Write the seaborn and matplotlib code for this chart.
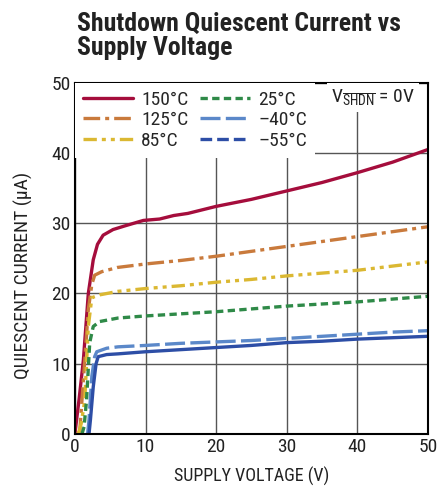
import matplotlib
matplotlib.use("Agg")
import matplotlib.pyplot as plt
from matplotlib.lines import Line2D
import pandas as pd
import seaborn as sns

# supply voltage (V) / quiescent current (uA)
V_150 = [0, 0.6, 1.2, 1.9, 2.6, 3.2, 4.0, 5.4, 7, 9.7, 12, 14, 16, 20, 25, 30, 35, 40, 45, 50]
I_150 = [0, 5, 10.5, 20, 24.8, 27, 28.3, 29.1, 29.6, 30.4, 30.6, 31.1, 31.4, 32.4, 33.4, 34.6, 35.8, 37.2, 38.7, 40.5]

V_125 = [0.4, 0.7, 1.4, 1.9, 2.4, 2.8, 3.8, 6, 10, 15, 20, 25, 30, 35, 40, 45, 50]
I_125 = [0, 0.5, 10.5, 17.7, 21.3, 22.6, 23.1, 23.7, 24.2, 24.7, 25.3, 26.0, 26.7, 27.4, 28.1, 28.8, 29.5]

V_85 = [0.5, 0.9, 1.4, 1.9, 2.4, 3.5, 6.1, 10, 15, 20, 25, 30, 35, 40, 45, 50]
I_85 = [0, 1.5, 4.8, 15.3, 19.4, 19.8, 20.3, 20.7, 21.1, 21.6, 22.0, 22.5, 22.9, 23.3, 23.9, 24.5]

V_25 = [1.0, 1.3, 1.65, 2.1, 2.6, 3.5, 6.1, 10, 15, 20, 25, 30, 35, 40, 45, 50]
I_25 = [0, 1, 4.8, 13, 15.3, 16.0, 16.5, 16.8, 17.1, 17.4, 17.8, 18.2, 18.5, 18.8, 19.2, 19.6]

V_M40 = [1.8, 2.0, 2.4, 2.8, 3.1, 4.5, 6.1, 10, 15, 20, 25, 30, 35, 40, 45, 50]
I_M40 = [0, 2, 8.2, 11, 11.7, 12.2, 12.4, 12.6, 12.9, 13.1, 13.3, 13.6, 13.9, 14.2, 14.5, 14.7]

V_M55 = [2.0, 2.2, 2.6, 3.0, 3.3, 4.5, 6.1, 10, 15, 20, 25, 30, 35, 40, 45, 50]
I_M55 = [0, 2, 6.7, 10, 11.0, 11.3, 11.4, 11.7, 12.0, 12.3, 12.6, 13.0, 13.2, 13.5, 13.7, 13.9]

TEMPS = ["150°C", "125°C", "85°C", "25°C", "–40°C", "–55°C"]
X_TICKS = [0, 10, 20, 30, 40, 50]
Y_TICKS = [0, 10, 20, 30, 40, 50]

colors = {
    "150°C": "#a50d3c",
    "125°C": "#c97a3c",
    "85°C": "#dbb832",
    "25°C": "#2f8a48",
    "–40°C": "#5b88c9",
    "–55°C": "#2d4ea6",
}
dashes = {
    "150°C": "",
    "125°C": (5, 1.5, 1.2, 1.5),
    "85°C": (4, 1.5, 1.2, 1.5, 1.2, 1.5),
    "25°C": (2.2, 1.3),
    "–40°C": (6, 1.6),
    "–55°C": "",
}
# the -55C key in the legend is drawn dashed although its trace is solid
legend_dashes = dict(dashes)
legend_dashes["–55°C"] = (3.5, 1.5)

frames = []
for name, v, i in zip(TEMPS, [V_150, V_125, V_85, V_25, V_M40, V_M55],
                      [I_150, I_125, I_85, I_25, I_M40, I_M55]):
    frames.append(pd.DataFrame({"voltage": v, "current": i, "temp": name}))
df = pd.concat(frames, ignore_index=True)

sns.set_style("white")
plt.rcParams["font.family"] = ["Roboto Condensed", "DejaVu Sans"]
plt.rcParams["mathtext.fontset"] = "custom"
plt.rcParams["mathtext.rm"] = "Roboto Condensed"
plt.rcParams["mathtext.it"] = "Roboto Condensed"
plt.rcParams["mathtext.bf"] = "Roboto Condensed:bold"

fig = plt.figure(figsize=(4.38, 4.87), dpi=100)
ax = fig.add_axes([0.171, 0.109, 0.806, 0.721])

sns.lineplot(
    data=df, x="voltage", y="current", hue="temp", style="temp",
    hue_order=TEMPS, style_order=TEMPS, palette=colors, dashes=dashes,
    linewidth=2.4, estimator=None, sort=False, ax=ax, legend=False,
)

ax.set_xlim(0, 50)
ax.set_ylim(0, 50)
ax.set_xticks(X_TICKS)
ax.set_yticks(Y_TICKS)
ax.grid(True, color="#555555", linewidth=1.0)
ax.set_axisbelow(True)
for s in ax.spines.values():
    s.set_color("black")
    s.set_linewidth(1.5)
ax.tick_params(axis="both", labelsize=14, length=0, pad=3, colors="#222222")
ax.set_xlabel("SUPPLY VOLTAGE (V)", fontsize=13, color="#222222", labelpad=8)
ax.set_ylabel("QUIESCENT CURRENT (µA)", fontsize=14, color="#222222")
ax.yaxis.set_label_coords(-0.118, 0.45)

handles = [Line2D([0], [0], color=colors[t], linewidth=2.4, dashes=legend_dashes[t]) for t in TEMPS]
leg = ax.legend(
    handles, TEMPS, ncol=2, loc="upper left", bbox_to_anchor=(0.0, 1.0),
    fontsize=14, frameon=True, fancybox=False, framealpha=1.0,
    edgecolor="white", handlelength=2.6, handletextpad=0.4,
    columnspacing=0.6, labelspacing=0.14, borderpad=0.4, borderaxespad=0.0,
)
leg.get_frame().set_linewidth(0)

ax.text(0.963, 0.957, r"V$_{\overline{\mathrm{SHDN}}}$ = 0V", transform=ax.transAxes,
        ha="right", va="center", fontsize=14, color="#222222",
        bbox=dict(facecolor="white", edgecolor="none", pad=3))

fig.text(0.176, 0.976, "Shutdown Quiescent Current vs\nSupply Voltage",
         ha="left", va="top", fontsize=18.5, fontweight="bold", color="#222222",
         linespacing=1.0)

fig.savefig("out.png", dpi=100)
